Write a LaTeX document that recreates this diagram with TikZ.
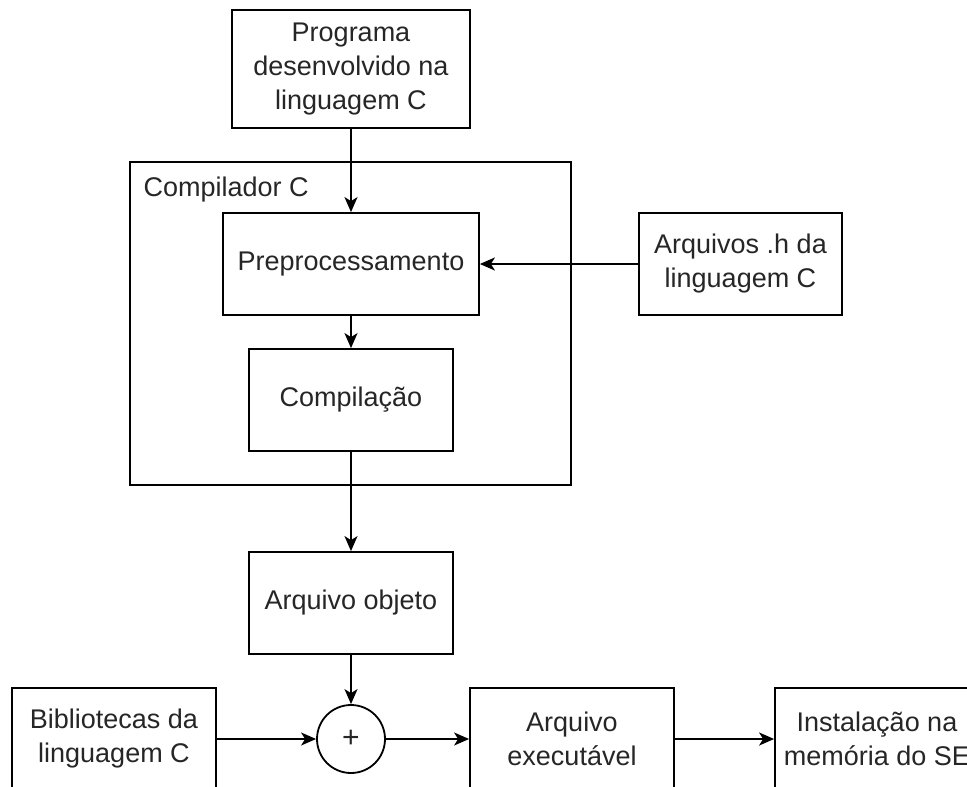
\documentclass[tikz,border=0pt]{standalone}
\usepackage{fontspec}
\setmainfont{Liberation Sans}
\usetikzlibrary{arrows.meta}
\begin{document}
\begin{tikzpicture}[x=1pt,y=-1pt,
  font=\fontsize{27}{34}\selectfont,
  box/.style={draw=black, line width=1.8pt, fill=white, align=center, inner sep=0pt, text=black!85},
  sumnode/.style={draw=black, line width=1.8pt, circle, fill=white, minimum size=68pt, inner sep=0pt, text=black!85},
  flow/.style={line width=1.8pt, -{Stealth[length=15pt,width=13pt,inset=4pt]}}]
  \useasboundingbox (0,0) rectangle (967,787);
  \begin{scope}
  \clip (0,0) rectangle (967,787);

  % compiler frame
  \draw[line width=1.8pt] (130,162) rectangle (571,485);
  \node[anchor=west, text=black!85] (lbl) at (140,190) {Compilador C};

  % blocks
  \node[box, minimum width=238pt, minimum height=118pt] (src) at (351,69)
    {Programa\\desenvolvido na\\linguagem C};
  \node[box, minimum width=256pt, minimum height=102pt] (pre) at (351,264) {Preprocessamento};
  \node[box, minimum width=204pt, minimum height=102pt] (comp) at (351,400) {Compilação};
  \node[box, minimum width=203pt, minimum height=102pt] (hdr) at (740.5,264) {Arquivos .h da\\linguagem C};
  \node[box, minimum width=204pt, minimum height=102pt] (obj) at (351,603) {Arquivo objeto};
  \node[box, minimum width=204pt, minimum height=102pt] (lib) at (114,739) {Bibliotecas da\\linguagem C};
  \node[sumnode] (sum) at (351,739) {\fontsize{30}{34}\selectfont +};
  \node[box, minimum width=204pt, minimum height=102pt] (exe) at (572,739) {Arquivo\\executável};
  \node[box, minimum width=204pt, minimum height=102pt] (inst) at (877,739) {Instalação na\\memória do SE};

  % connectors
  \draw[flow] (src) -- (pre);
  \draw[flow] (hdr) -- (pre);
  \draw[flow] (pre) -- (comp);
  \draw[flow] (comp) -- (obj);
  \draw[flow] (obj) -- (sum);
  \draw[flow] (lib) -- (sum);
  \draw[flow] (sum) -- (exe);
  \draw[flow] (exe) -- (inst);
  \end{scope}
\end{tikzpicture}
\end{document}
